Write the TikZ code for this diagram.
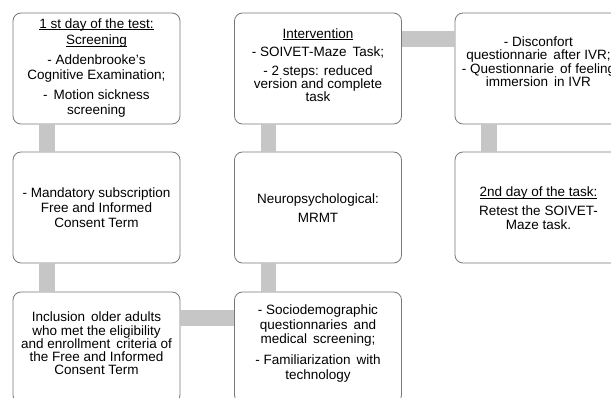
\documentclass[tikz,border=0pt]{standalone}
\usepackage{fontspec}
\setmainfont{Liberation Sans}
\newcommand\myul[1]{\setbox0\hbox{#1}\rlap{\vrule width\wd0 height -0.9pt depth 1.8pt}\box0}
\newcommand\fs[1]{\fontsize{13.5}{#1}\selectfont}
\definecolor{connc}{RGB}{198,198,198}
\definecolor{boxc}{RGB}{120,120,120}
\tikzset{
  box/.style={draw=boxc, line width=0.8pt, fill=white, rounded corners=8pt,
    minimum width=167pt, minimum height=111pt, inner sep=0pt},
  txt/.style={inner sep=0pt, align=center},
  conn/.style={draw=connc, line width=15.5pt}
}
\begin{document}
\begin{tikzpicture}[x=1pt,y=1pt]
\useasboundingbox (0,0) rectangle (611,397);
\clip (0,0) rectangle (611,397);
% boxes
\node[box] (b1) at (96.5,328.5) {};
\node[box] (b2) at (318,328.5) {};
\node[box] (b3) at (538.5,328.5) {};
\node[box] (b4) at (96.5,189.5) {};
\node[box] (b5) at (318,189.5) {};
\node[box] (b6) at (538.5,189.5) {};
\node[box] (b7) at (96.5,49.5) {};
\node[box] (b8) at (318,49.5) {};
% texts
\node[txt, font=\fs{15}] (t1) at ([yshift=0.5pt]b1.center) {\myul{1 st day of the test:}\\[1.7pt] \myul{Screening}\\[5pt] - Addenbrooke's\\ Cognitive Examination;\\[5pt] - \,Motion sickness\\ screening};
\node[txt, font=\fs{13}] (t2) at ([yshift=3.5pt]b2.center) {\myul{Intervention}\\[5.5pt] - SOIVET-Maze \,Task;\\[6pt] - 2 steps: reduced\\ version and complete\\ task};
\node[txt, font=\fs{12.5}] (t3) at ([yshift=6.5pt]b3.center) {- Disconfort\\ questionnarie \,after IVR;\\ - Questionnarie \,of feeling\\ immersion \,in IVR};
\node[txt, font=\fs{15}] (t4) at ([yshift=-0.5pt]b4.center) {- Mandatory subscription\\ Free and Informed\\ Consent Term};
\node[txt, font=\fs{15}] (t5) at ([yshift=-0.5pt]b5.center) {Neuropsychological:\\[4.4pt] MRMT};
\node[txt, font=\fs{14.3}] (t6) at ([yshift=-1pt]b6.center) {\myul{2nd day of the task:}\\[4.7pt] Retest the SOIVET-\\ Maze task.};
\node[txt, font=\fs{13.3}] (t7) at ([yshift=4pt]b7.center) {Inclusion \,older adults\\ who met the eligibility\\ and enrollment \,criteria of\\ the Free and Informed\\ Consent Term};
\node[txt, font=\fs{14.5}] (t8) at ([yshift=4pt]b8.center) {- Sociodemographic\\ questionnaries \,and\\ medical \,screening;\\[6.5pt] - Familiarization \,with\\ technology};
% connectors
\draw[conn] ([xshift=34.5pt]b1.south west) -- ([xshift=34.5pt]b4.north west);
\draw[conn] ([xshift=34.5pt]b4.south west) -- ([xshift=34.5pt]b7.north west);
\draw[conn] ([yshift=-26.5pt]b7.north east) -- ([yshift=-26.5pt]b8.north west);
\draw[conn] ([xshift=34.5pt]b8.north west) -- ([xshift=34.5pt]b5.south west);
\draw[conn] ([xshift=34.5pt]b5.north west) -- ([xshift=34.5pt]b2.south west);
\draw[conn] ([yshift=-26.5pt]b2.north east) -- ([yshift=-26.5pt]b3.north west);
\draw[conn] ([xshift=34.5pt]b3.south west) -- ([xshift=34.5pt]b6.north west);
\end{tikzpicture}
\end{document}
